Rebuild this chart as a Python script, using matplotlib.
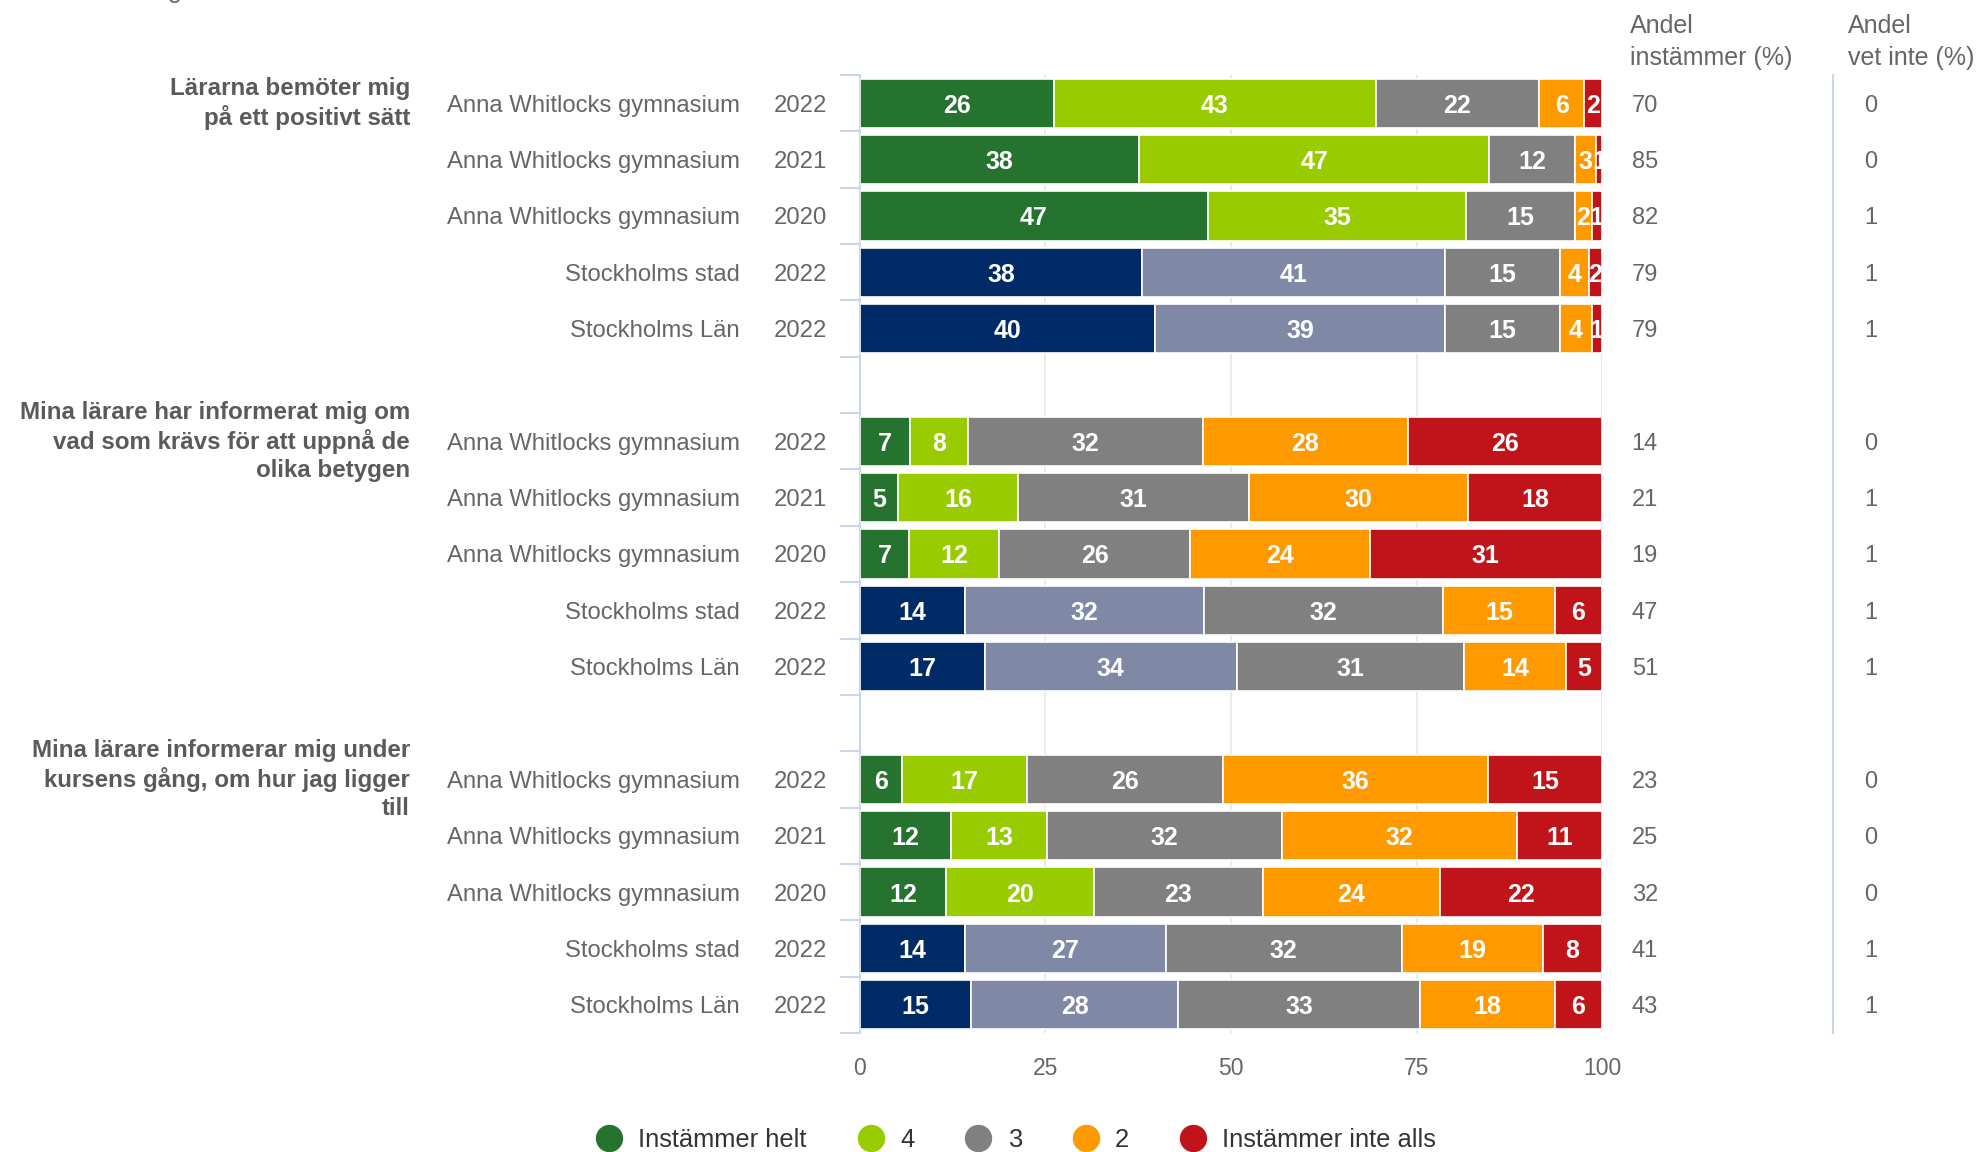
import matplotlib.pyplot as plt
from matplotlib.lines import Line2D

plt.rcParams['font.family'] = ['Liberation Sans', 'DejaVu Sans']

# questions (one group of bars each)
questions = [
    'Lärarna bemöter mig\npå ett positivt sätt',
    'Mina lärare har informerat mig om\nvad som krävs för att uppnå de\nolika betygen',
    'Mina lärare informerar mig under\nkursens gång, om hur jag ligger\ntill',
]
units = ['Anna Whitlocks gymnasium', 'Anna Whitlocks gymnasium', 'Anna Whitlocks gymnasium',
         'Stockholms stad', 'Stockholms Län']
years = ['2022', '2021', '2020', '2022', '2022']

answers = ['Instämmer helt', '4', '3', '2', 'Instämmer inte alls']

# share per answer (%), order as in answers
q1_values = [
    [26.1, 43.4, 22.0, 6.1, 2.4],
    [37.6, 47.2, 11.6, 2.8, 0.8],
    [46.9, 34.8, 14.7, 2.2, 1.4],
    [38.0, 40.9, 15.4, 3.9, 1.8],
    [39.7, 39.2, 15.4, 4.3, 1.4],
]
q2_values = [
    [6.7, 7.9, 31.6, 27.6, 26.2],
    [5.1, 16.2, 31.1, 29.6, 18.0],
    [6.6, 12.2, 25.7, 24.2, 31.3],
    [14.1, 32.3, 32.2, 15.0, 6.4],
    [16.8, 34.0, 30.6, 13.7, 4.9],
]
q3_values = [
    [5.6, 16.9, 26.4, 35.8, 15.3],
    [12.3, 12.9, 31.7, 31.7, 11.4],
    [11.6, 19.9, 22.8, 23.8, 21.9],
    [14.1, 27.1, 31.8, 19.0, 8.0],
    [15.0, 27.9, 32.6, 18.1, 6.4],
]
all_values = [q1_values, q2_values, q3_values]

andel_instammer = [[70, 85, 82, 79, 79], [14, 21, 19, 47, 51], [23, 25, 32, 41, 43]]
andel_vet_inte = [[0, 0, 1, 1, 1], [0, 1, 1, 1, 1], [0, 0, 0, 1, 1]]

school_colors = ['#267330', '#99cc00', '#808080', '#ff9900', '#c0141a']
region_colors = ['#002b66', '#7f89a6', '#808080', '#ff9900', '#c0141a']

TXT = '#666666'
AXC = '#ccd6eb'

fig = plt.figure(figsize=(19.81, 11.52), dpi=100)
ax = fig.add_axes([0.4341, 0.1033, 0.3746, 0.8316])

for g, (q, vals) in enumerate(zip(questions, all_values)):
    base = g * 6
    for i, row in enumerate(vals):
        y = base + i
        cols = school_colors if units[i].startswith('Anna') else region_colors
        left = 0
        for v, c in zip(row, cols):
            ax.barh(y, v, left=left, height=0.875, color=c, edgecolor='white',
                    linewidth=1.2, zorder=3)
            ax.text(left + v / 2, y, f'{v:.0f}', ha='center', va='center_baseline',
                    color='white', fontsize=18, fontweight='bold', zorder=4)
            left += v
        # category labels
        ax.text(-0.1617, y, units[i], transform=ax.get_yaxis_transform(),
                ha='right', va='center_baseline', fontsize=17.2, color=TXT)
        ax.text(-0.0445, y, years[i], transform=ax.get_yaxis_transform(),
                ha='right', va='center_baseline', fontsize=17.2, color=TXT)
        # right hand columns
        ax.text(104.0, y, str(andel_instammer[g][i]), ha='left', va='center_baseline',
                fontsize=17, color=TXT, clip_on=False)
        ax.text(135.3, y, str(andel_vet_inte[g][i]), ha='left', va='center_baseline',
                fontsize=17, color=TXT, clip_on=False)
    ax.text(-0.6065, base, q, transform=ax.get_yaxis_transform(), ha='right',
            va='center', fontsize=17.4, fontweight='bold', color='#5a5a5a',
            linespacing=1.25)

# column headers
ax.text(103.8, -1.245, 'Andel', ha='left', va='baseline', fontsize=18, color=TXT,
        clip_on=False)
ax.text(103.8, -0.677, 'instämmer (%)', ha='left', va='baseline', fontsize=18,
        color=TXT, clip_on=False)
ax.text(133.2, -1.245, 'Andel', ha='left', va='baseline', fontsize=18, color=TXT,
        clip_on=False)
ax.text(133.2, -0.677, 'vet inte (%)', ha='left', va='baseline', fontsize=18,
        color=TXT, clip_on=False)

# separator between the two columns
ax.plot([131.1, 131.1], [-0.5, 16.5], color=AXC, lw=1.5, clip_on=False)

ax.set_xlim(0, 100)
ax.set_ylim(16.5, -0.5)
ax.set_xticks([0, 25, 50, 75, 100])
ax.set_xticklabels(['0', '25', '50', '75', '100'])
ax.tick_params(axis='x', length=0, pad=17, labelsize=16.5, labelcolor=TXT)
ax.set_yticks([])
ax.set_yticks([b - 0.5 for b in range(18)], minor=True)
ax.tick_params(axis='y', which='minor', length=14.4, width=1.5, color=AXC)
ax.grid(axis='x', color='#e6e6e6', lw=1.2, zorder=0)
ax.set_axisbelow(True)
for s in ['top', 'right', 'bottom']:
    ax.spines[s].set_visible(False)
ax.spines['left'].set_color(AXC)
ax.spines['left'].set_linewidth(1.5)

# clipped fragment of the title above the chart
fig.text(175 / 1981, 1 + 2 / 1152, 'g', ha='center', va='baseline', fontsize=18,
         color=TXT)

handles = [Line2D([], [], ls='none', marker='o', markersize=18.7, color=c)
           for c in school_colors]
fig.legend(handles, answers, loc='center', bbox_to_anchor=(0.513, 1 - 1140 / 1152),
           ncol=5, frameon=False, fontsize=18.4, handletextpad=0.65,
           columnspacing=2.0, handlelength=1.0, labelcolor='#333333')

fig.savefig('out.png', dpi=100)
